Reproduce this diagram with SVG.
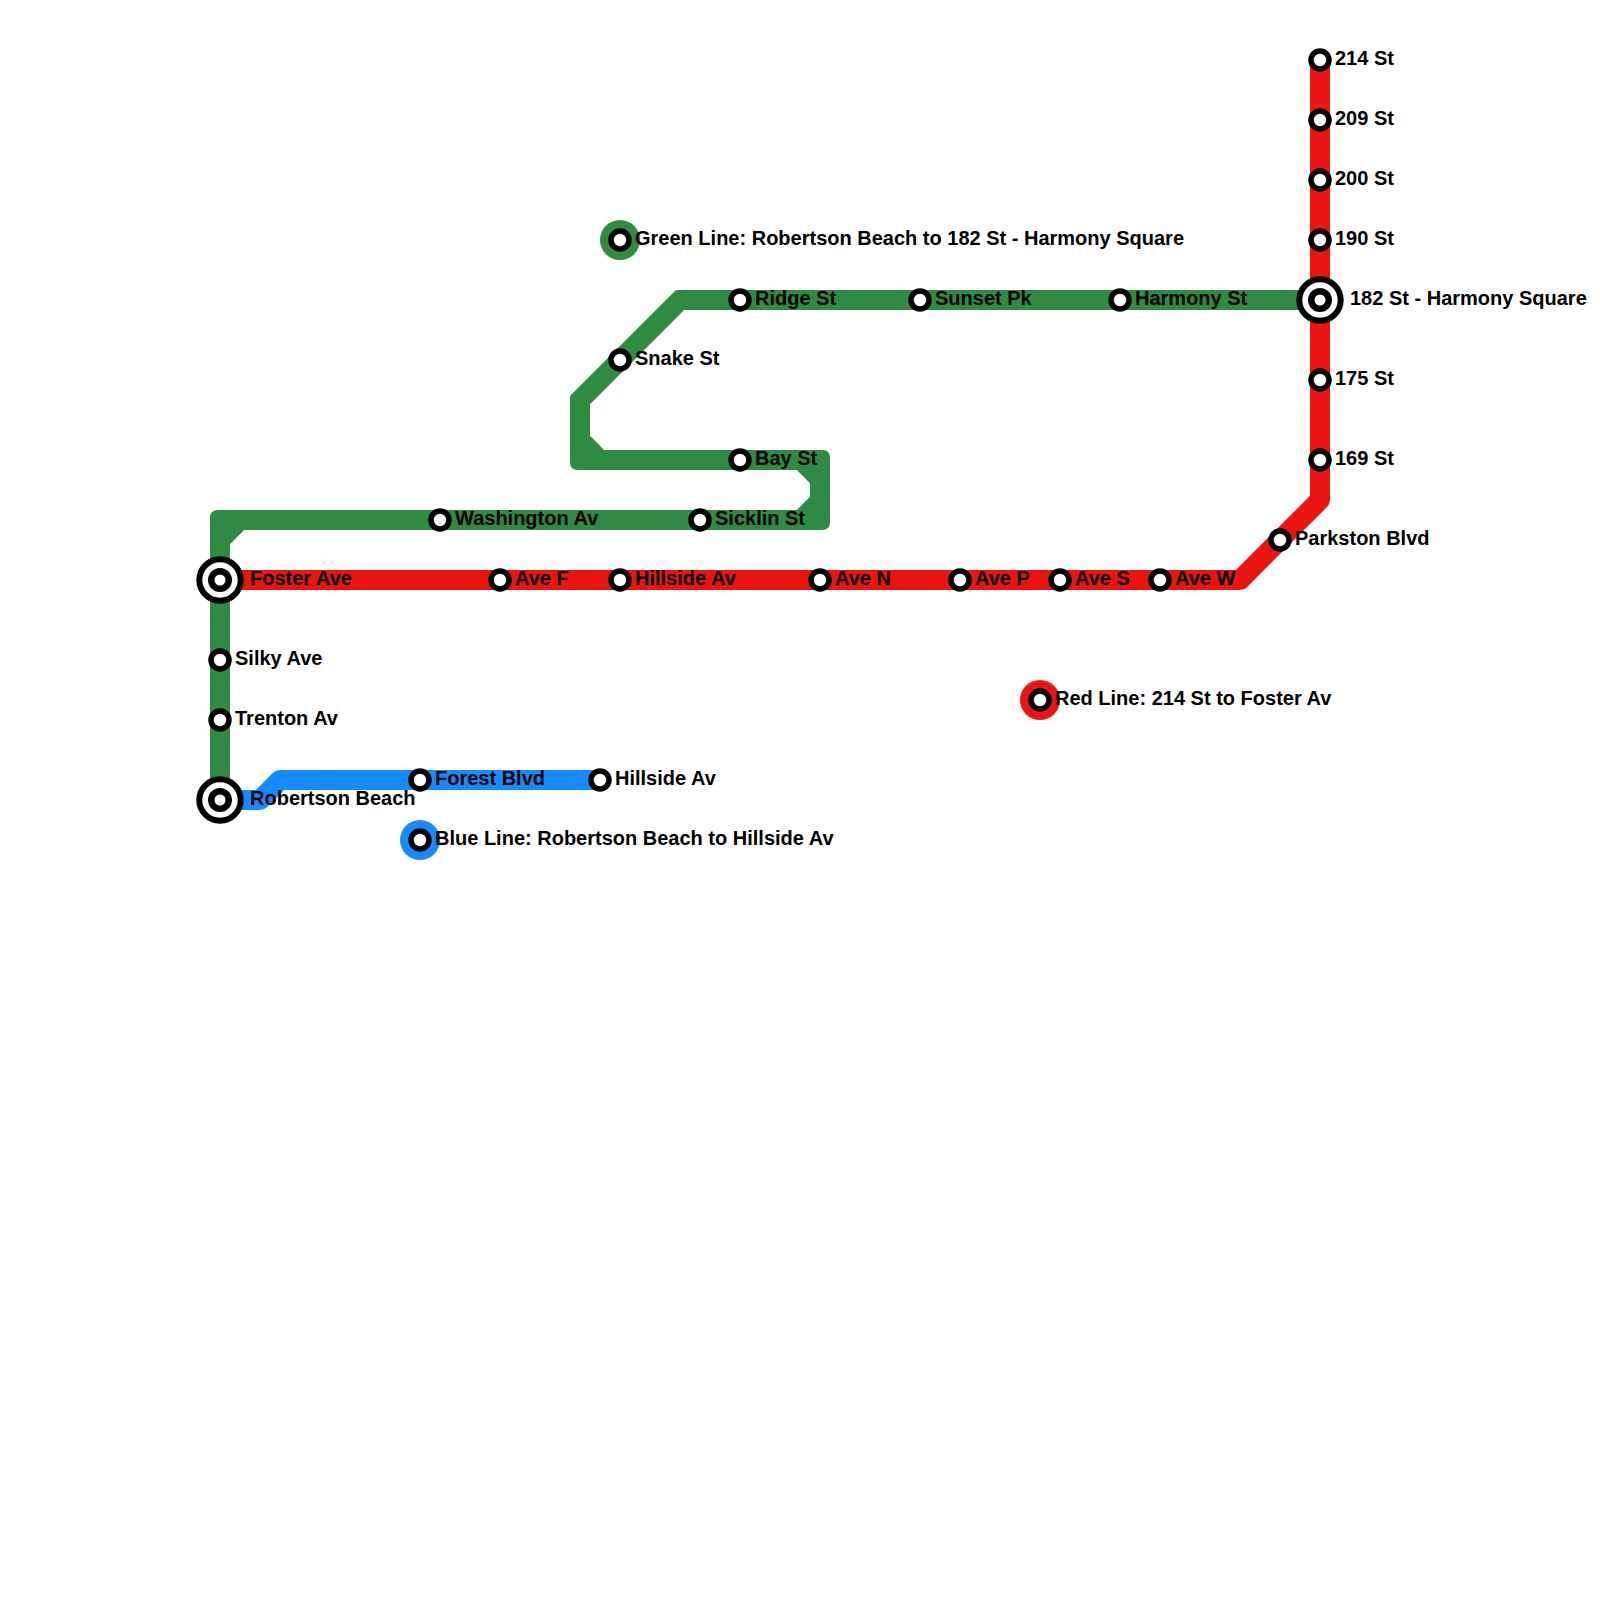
<svg xmlns="http://www.w3.org/2000/svg" width="1600" height="1600" viewBox="0 0 1600 1600">
<style>
text{font-family:"Liberation Sans",Arial,sans-serif;font-weight:700;font-size:20px;fill:#000}
.s{fill:#fff;stroke:#000;stroke-width:5.5}
.ho{fill:#fff;stroke:#000;stroke-width:6}
.hi{fill:#fff;stroke:#000;stroke-width:6.5}
</style>
<defs>
<g id="st"><circle class="s" r="9"/></g>
<g id="hub"><circle class="ho" r="20.7"/><circle class="hi" r="8.75"/></g>
</defs>
<rect width="1600" height="1600" fill="#fff"/>
<g id="connectors">
<path id="green-line" fill="#2e8b3f" d="M210,800V518Q210,510 218,510H796.86L810,496.86V483.14L796.86,470H578Q570,470 570,462V397.5Q570,395.86 571.2,394.66L674.66,291.2Q675.86,290 677.5,290H1320V310H684.14L590,404.14V435.86L604.14,450H822Q830,450 830,458V522Q830,530 822,530H244.14L230,544.14V800Z"/>
<path id="blue-line" fill="#158bff" d="M220,790H255.86L273,772.86Q275.86,770 280,770H600V790H284.14L267,807.14Q264.14,810 260,810H220Z"/>
<path id="red-line" fill="#ec1410" d="M1310,60H1330V500Q1330,504 1327.14,506.86L1246.86,587.14Q1244,590 1240,590H220V570H1235.86L1310,495.86Z"/>
</g>
<g id="legend-green"><circle cx="620" cy="240" r="20" fill="#2e8b3f"/><use href="#st" x="620" y="240"/><text x="635" y="245">Green Line: Robertson Beach to 182 St - Harmony Square</text></g>
<g id="legend-red"><circle cx="1040" cy="700" r="20" fill="#ec1410"/><use href="#st" x="1040" y="700"/><text x="1055" y="705">Red Line: 214 St to Foster Av</text></g>
<g id="legend-blue"><circle cx="420" cy="840" r="20" fill="#158bff"/><use href="#st" x="420" y="840"/><text x="435" y="845">Blue Line: Robertson Beach to Hillside Av</text></g>
<g id="foster-ave"><use href="#hub" x="220" y="580"/><text x="250" y="585">Foster Ave</text></g>
<g id="silky-ave"><use href="#st" x="220" y="660"/><text x="235" y="665">Silky Ave</text></g>
<g id="trenton-av"><use href="#st" x="220" y="720"/><text x="235" y="725">Trenton Av</text></g>
<g id="robertson-beach"><use href="#hub" x="220" y="800"/><text x="250" y="805">Robertson Beach</text></g>
<g id="forest-blvd"><use href="#st" x="420" y="780"/><text x="435" y="785">Forest Blvd</text></g>
<g id="hillside-av-blue"><use href="#st" x="600" y="780"/><text x="615" y="785">Hillside Av</text></g>
<g id="washington-av"><use href="#st" x="440" y="520"/><text x="455" y="525">Washington Av</text></g>
<g id="sicklin-st"><use href="#st" x="700" y="520"/><text x="715" y="525">Sicklin St</text></g>
<g id="bay-st"><use href="#st" x="740" y="460"/><text x="755" y="465">Bay St</text></g>
<g id="snake-st"><use href="#st" x="620" y="360"/><text x="635" y="365">Snake St</text></g>
<g id="ridge-st"><use href="#st" x="740" y="300"/><text x="755" y="305">Ridge St</text></g>
<g id="sunset-pk"><use href="#st" x="920" y="300"/><text x="935" y="305">Sunset Pk</text></g>
<g id="harmony-st"><use href="#st" x="1120" y="300"/><text x="1135" y="305">Harmony St</text></g>
<g id="harmony-square"><use href="#hub" x="1320" y="300"/><text x="1350" y="305">182 St - Harmony Square</text></g>
<g id="s214"><use href="#st" x="1320" y="60"/><text x="1335" y="65">214 St</text></g>
<g id="s209"><use href="#st" x="1320" y="120"/><text x="1335" y="125">209 St</text></g>
<g id="s200"><use href="#st" x="1320" y="180"/><text x="1335" y="185">200 St</text></g>
<g id="s190"><use href="#st" x="1320" y="240"/><text x="1335" y="245">190 St</text></g>
<g id="s175"><use href="#st" x="1320" y="380"/><text x="1335" y="385">175 St</text></g>
<g id="s169"><use href="#st" x="1320" y="460"/><text x="1335" y="465">169 St</text></g>
<g id="parkston-blvd"><use href="#st" x="1280" y="540"/><text x="1295" y="545">Parkston Blvd</text></g>
<g id="ave-w"><use href="#st" x="1160" y="580"/><text x="1175" y="585">Ave W</text></g>
<g id="ave-s"><use href="#st" x="1060" y="580"/><text x="1075" y="585">Ave S</text></g>
<g id="ave-p"><use href="#st" x="960" y="580"/><text x="975" y="585">Ave P</text></g>
<g id="ave-n"><use href="#st" x="820" y="580"/><text x="835" y="585">Ave N</text></g>
<g id="hillside-av-red"><use href="#st" x="620" y="580"/><text x="635" y="585">Hillside Av</text></g>
<g id="ave-f"><use href="#st" x="500" y="580"/><text x="515" y="585">Ave F</text></g>
</svg>
